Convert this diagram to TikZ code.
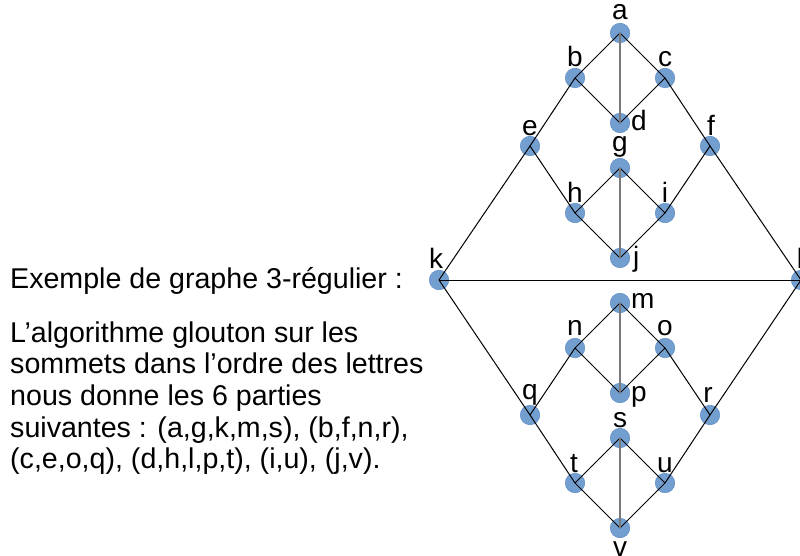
\documentclass[tikz,border=0pt]{standalone}
\usepackage{fontspec}
\setmainfont{Liberation Sans}
\definecolor{vfill}{HTML}{729FCF}
\definecolor{vedge}{HTML}{5B8AC4}
\definecolor{vgray}{HTML}{7A7A7A}
\begin{document}
\begin{tikzpicture}[x=1pt,y=-1pt,
  vtx/.style={circle,fill=vfill,draw=vedge,line width=0.5pt,minimum size=19.5pt,inner sep=0pt},
  lab/.style={font=\fontsize{28}{32}\selectfont,inner sep=0pt,anchor=base},
  labr/.style={lab,anchor=base west},
  edge/.style={black,line width=1pt},
  gedge/.style={vgray,line width=1.6pt},
  txt/.style={font=\fontsize{28.6}{32}\selectfont,inner sep=0pt,anchor=base west}]
\useasboundingbox (0,0) rectangle (800,556);
\clip (0,0) rectangle (800,556);
% vertices
\node[vtx] (a) at (620,33) {};
\node[vtx] (b) at (575,78) {};
\node[vtx] (c) at (665,78) {};
\node[vtx] (d) at (620,123) {};
\node[vtx] (e) at (530,146) {};
\node[vtx] (f) at (710,146) {};
\node[vtx] (g) at (620,168) {};
\node[vtx] (h) at (575,213) {};
\node[vtx] (i) at (665,213) {};
\node[vtx] (j) at (620,258) {};
\node[vtx] (k) at (439,280) {};
\node[vtx] (l) at (801,280) {};
\node[vtx] (m) at (620,303) {};
\node[vtx] (n) at (575,348) {};
\node[vtx] (o) at (665,348) {};
\node[vtx] (p) at (620,393) {};
\node[vtx] (q) at (530,415) {};
\node[vtx] (r) at (710,415) {};
\node[vtx] (s) at (620,438) {};
\node[vtx] (t) at (575,483) {};
\node[vtx] (u) at (665,483) {};
\node[vtx] (v) at (620,528) {};
% edges
\foreach \x/\y in {a/b,a/c,b/d,c/d,b/e,c/f,e/h,e/k,f/i,f/l,g/h,g/i,h/j,i/j,k/l,k/q,l/r,m/n,m/o,n/p,o/p,n/q,o/r,q/t,r/u,s/t,s/u,t/v,u/v}
  \draw[edge] (\x.center) -- (\y.center);
\foreach \x/\y in {a/d,g/j,m/p,s/v}
  \draw[gedge] (\x.center) -- (\y.center);
% labels
\node[lab] (la) at (620,20) {a};
\node[lab] (lb) at (575,67) {b};
\node[lab] (lc) at (665,67) {c};
\node[labr] (ld) at (631,131) {d};
\node[lab] (le) at (530,136) {e};
\node[lab] (lf) at (711,136) {f};
\node[lab] (lg) at (620,152) {g};
\node[lab] (lh) at (575,203) {h};
\node[lab] (li) at (665,203) {i};
\node[labr] (lj) at (633,266) {j};
\node[lab] (lk) at (436,268) {k};
\node[lab] (ll) at (800,268) {l};
\node[labr] (lm) at (631,308) {m};
\node[lab] (ln) at (575,335) {n};
\node[lab] (lo) at (665,335) {o};
\node[labr] (lp) at (631,401) {p};
\node[lab] (lq) at (530,399) {q};
\node[lab] (lr) at (708,402) {r};
\node[lab] (ls) at (620,427) {s};
\node[lab] (lt) at (574,472) {t};
\node[lab] (lu) at (665,472) {u};
\node[lab] (lv) at (620,556) {v};
% text
\node[txt] (t1) at (10,288) {Exemple de graphe 3-régulier :};
\node[txt] (t2) at (10,342) {L’algorithme glouton sur les};
\node[txt] (t3) at (10,373) {sommets dans l’ordre des lettres};
\node[txt] (t4) at (10,405) {nous donne les 6 parties};
\node[txt] (t5) at (10,437) {suivantes : (a,g,k,m,s), (b,f,n,r),};
\node[txt] (t6) at (10,468) {(c,e,o,q), (d,h,l,p,t), (i,u), (j,v).};
\end{tikzpicture}
\end{document}
